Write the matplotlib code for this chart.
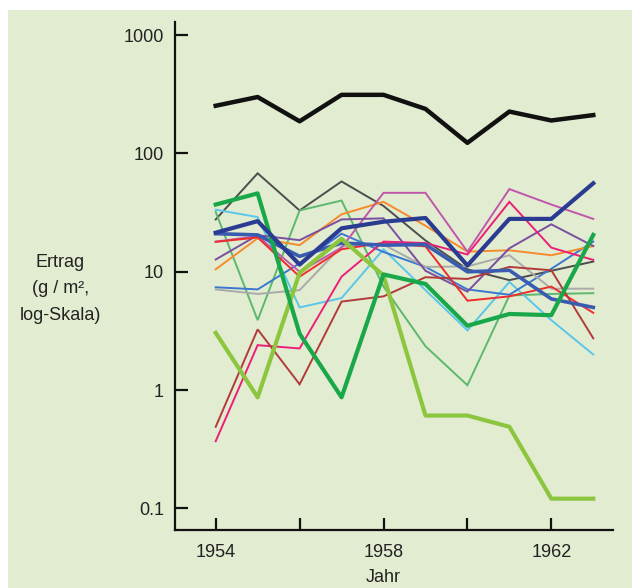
import matplotlib
matplotlib.use("Agg")
import matplotlib.pyplot as plt
from matplotlib.patches import Rectangle

plt.rcParams['font.family'] = ['Liberation Sans', 'DejaVu Sans']

# Jahre und Ertragswerte (g/m^2)
years = [1954, 1955, 1956, 1957, 1958, 1959, 1960, 1961, 1962, 1963]

black = [253, 300, 187, 313, 313, 238, 123, 226, 190, 211]
dark_gray = [27.7, 68, 33, 58, 36, 18.4, 10.5, 8.5, 10.2, 12.2]
green_thick = [37, 46, 3.0, 0.87, 9.5, 7.9, 3.5, 4.4, 4.3, 20.5]
light_green = [3.05, 0.87, 9.8, 19, 9.3, 0.61, 0.61, 0.49, 0.121, 0.121]
green_thin = [32, 3.9, 33, 40, 7.5, 2.35, 1.1, 6.3, 6.5, 6.6]
cyan = [33.5, 29, 5.0, 6.0, 15.5, 7.0, 3.2, 8.2, 3.9, 2.0]
dark_blue = [21.4, 26.8, 11.5, 23.3, 26.5, 28.5, 11.3, 28, 28, 56]
mid_blue = [21, 20.5, 13.5, 17.5, 16.8, 17, 10, 10.3, 5.9, 5.0]
blue_thin = [7.4, 7.1, 11.8, 21, 14.7, 11, 7.1, 6.4, 10.6, 18]
gray = [7.1, 6.5, 7.0, 16.4, 17, 11, 11.1, 13.8, 7.2, 7.2]
orange = [10.5, 19.2, 16.8, 30.6, 39, 24.5, 14.8, 15.2, 13.8, 16.5]
orchid = [18, 20, 10, 16, 46.5, 46.5, 14.8, 50, 37, 28]
purple = [12.7, 20.4, 18.5, 27.7, 28.3, 10.2, 6.8, 15.8, 25.2, 16.5]
red = [17.9, 19.5, 9.1, 15.5, 17.6, 16.4, 5.7, 6.2, 7.5, 4.5]
hot_pink = [0.37, 2.4, 2.25, 9.1, 18, 17.5, 14, 39, 16, 12.6]
dark_red = [0.49, 3.26, 1.12, 5.6, 6.2, 9.0, 8.7, 11.0, 10.3, 2.74]

xticks = [1954, 1956, 1958, 1960, 1962]
xticklabels = ['1954', '', '1958', '', '1962']
yticks = [0.1, 1, 10, 100, 1000]
yticklabels = ['0.1', '1', '10', '100', '1000']

bg = '#e2ecd0'
txt = '#222222'

fig = plt.figure(figsize=(6.32, 5.88), dpi=100)
fig.patch.set_facecolor('white')
# green panel behind everything (white strip on top and left)
fig.patches.append(Rectangle((8 / 632, 0), 1 - 8 / 632, 1 - 10 / 588,
                             transform=fig.transFigure, facecolor=bg,
                             edgecolor='none', zorder=-10))

ax = fig.add_axes([175 / 632, 1 - 530 / 588, (613 - 175) / 632, (530 - 22) / 588])
ax.set_facecolor('none')

# thin lines first
thin = [
    (dark_gray, '#4d4d4d'),
    (green_thin, '#5cb86f'),
    (cyan, '#5ac6ea'),
    (blue_thin, '#3b78d0'),
    (gray, '#aaaaaa'),
    (orange, '#f68b2c'),
    (orchid, '#c156ad'),
    (purple, '#7a4f9f'),
    (red, '#ee2d2d'),
    (hot_pink, '#ec1f78'),
    (dark_red, '#b23a3a'),
]
for vals, c in thin:
    ax.plot(years, vals, color=c, lw=1.4, solid_joinstyle='miter')

ax.plot(years, mid_blue, color='#3a5cb0', lw=2.6)
ax.plot(years, light_green, color='#8cc63f', lw=3.0)
ax.plot(years, green_thick, color='#18a84a', lw=3.0)
ax.plot(years, dark_blue, color='#2a3c92', lw=3.0)
ax.plot(years, black, color='#111111', lw=3.2)

ax.set_yscale('log')
ax.set_xlim(1953.03, 1963.47)
ax.set_ylim(10 ** -1.182, 10 ** 3.111)

ax.set_xticks(xticks)
ax.set_xticklabels(xticklabels)
ax.set_yticks(yticks)
ax.set_yticklabels(yticklabels)
ax.minorticks_off()

for s in ['top', 'right']:
    ax.spines[s].set_visible(False)
for s in ['left', 'bottom']:
    ax.spines[s].set_linewidth(1.6)
    ax.spines[s].set_color('#111111')

ax.tick_params(axis='both', direction='in', length=9, width=1.6,
               color='#111111', labelsize=13, labelcolor=txt)
ax.tick_params(axis='y', pad=8)
ax.tick_params(axis='x', pad=10)

ax.set_xlabel('Jahr', fontsize=13, color=txt)
ax.xaxis.set_label_coords((1958 - 1953.03) / (1963.47 - 1953.03), -0.077)

fig.text(60.5 / 632, 1 - 289 / 588, 'Ertrag\n(g / m²,\nlog-Skala)',
         ha='center', va='center', multialignment='center',
         fontsize=13, color=txt, linespacing=1.75)

fig.savefig('out.png', dpi=100, facecolor=fig.get_facecolor())
